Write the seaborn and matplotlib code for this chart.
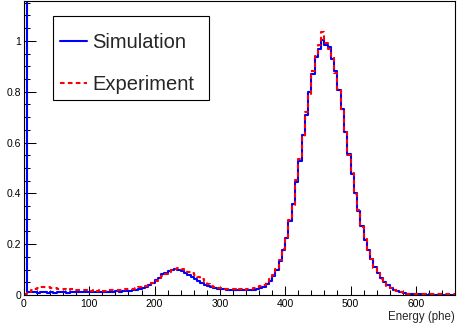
import numpy as np
import pandas as pd
import matplotlib
matplotlib.use("Agg")
import matplotlib.pyplot as plt
import seaborn as sns
from matplotlib.patches import Rectangle
from matplotlib.ticker import MultipleLocator, FormatStrFormatter

# ---------------------------------------------------------------------------
# Dati: istogrammi normalizzati, bin da 5 phe tra 0 e 660
# ---------------------------------------------------------------------------

BIN_WIDTH = 5
E_MAX = 660
energy_centers = np.arange(0, E_MAX, BIN_WIDTH) + BIN_WIDTH / 2

sim_counts = [
    1.600, 0.012, 0.010, 0.011, 0.009, 0.010, 0.011, 0.009, 0.010, 0.009,
    0.010, 0.011, 0.010, 0.009, 0.010, 0.012, 0.010, 0.011, 0.010, 0.012,
    0.011, 0.012, 0.011, 0.012, 0.013, 0.012, 0.013, 0.012, 0.014, 0.013,
    0.015, 0.016, 0.017, 0.019, 0.021, 0.024, 0.028, 0.033, 0.039, 0.048,
    0.058, 0.068, 0.082, 0.088, 0.094, 0.099, 0.103, 0.099, 0.094, 0.087,
    0.080, 0.071, 0.064, 0.056, 0.047, 0.038, 0.034, 0.030, 0.027, 0.024,
    0.023, 0.022, 0.021, 0.021, 0.019, 0.020, 0.018, 0.019, 0.018, 0.019,
    0.020, 0.022, 0.026, 0.033, 0.045, 0.057, 0.076, 0.100, 0.133, 0.176,
    0.226, 0.290, 0.360, 0.446, 0.528, 0.630, 0.708, 0.800, 0.868, 0.935,
    0.968, 1.005, 0.985, 0.975, 0.930, 0.882, 0.805, 0.731, 0.640, 0.556,
    0.478, 0.402, 0.332, 0.270, 0.218, 0.176, 0.140, 0.110, 0.086, 0.066,
    0.050, 0.038, 0.028, 0.020, 0.014, 0.010, 0.007, 0.005, 0.004, 0.003,
    0.002, 0.002, 0.002, 0.001, 0.002, 0.001, 0.001, 0.002, 0.001, 0.001,
    0.001, 0.001,
]

exp_counts = [
    0.004, 0.012, 0.018, 0.022, 0.026, 0.030, 0.033, 0.031, 0.028, 0.027,
    0.025, 0.023, 0.024, 0.021, 0.022, 0.020, 0.019, 0.020, 0.018, 0.019,
    0.017, 0.018, 0.016, 0.018, 0.017, 0.019, 0.018, 0.019, 0.020, 0.019,
    0.021, 0.022, 0.023, 0.025, 0.027, 0.030, 0.032, 0.036, 0.041, 0.048,
    0.056, 0.064, 0.074, 0.083, 0.090, 0.097, 0.104, 0.107, 0.103, 0.098,
    0.092, 0.085, 0.078, 0.070, 0.062, 0.052, 0.044, 0.037, 0.031, 0.028,
    0.026, 0.024, 0.024, 0.022, 0.023, 0.021, 0.022, 0.021, 0.023, 0.025,
    0.027, 0.030, 0.035, 0.041, 0.050, 0.062, 0.080, 0.104, 0.138, 0.180,
    0.222, 0.295, 0.355, 0.452, 0.535, 0.622, 0.720, 0.792, 0.882, 0.942,
    0.985, 1.035, 0.990, 0.968, 0.935, 0.875, 0.810, 0.725, 0.645, 0.550,
    0.482, 0.398, 0.335, 0.266, 0.221, 0.172, 0.142, 0.108, 0.088, 0.064,
    0.051, 0.037, 0.029, 0.019, 0.015, 0.010, 0.008, 0.005, 0.004, 0.003,
    0.003, 0.002, 0.002, 0.002, 0.002, 0.003, 0.002, 0.002, 0.003, 0.002,
    0.002, 0.003,
]

x_label = "Energy (phe)"
series_labels = ["Simulation", "Experiment"]

# ---------------------------------------------------------------------------
# Stile tipo ROOT
# ---------------------------------------------------------------------------

sns.set_style("ticks")
plt.rcParams["font.family"] = ["Liberation Sans", "DejaVu Sans"]

sim_df = pd.DataFrame({"energy": energy_centers, "weight": sim_counts})
exp_df = pd.DataFrame({"energy": energy_centers, "weight": exp_counts})

fig = plt.figure(figsize=(4.63, 3.26), dpi=100)
ax = fig.add_axes([0.0518, 0.0951, 0.9309, 0.9003])

sns.histplot(data=sim_df, x="energy", weights="weight",
             binwidth=BIN_WIDTH, binrange=(0, E_MAX), element="step",
             fill=False, color="#0000ff", lw=1.5, ax=ax,
             label=series_labels[0])
sns.histplot(data=exp_df, x="energy", weights="weight",
             binwidth=BIN_WIDTH, binrange=(0, E_MAX), element="step",
             fill=False, color="#ff0000", lw=1.5, linestyle=(0, (2.2, 1.6)),
             ax=ax, label=series_labels[1])

ax.set_xlim(0, E_MAX)
ax.set_ylim(0, 1.155)
ax.set_ylabel("")
ax.set_xlabel(x_label, loc="right", fontsize=8.3, labelpad=1)

ax.xaxis.set_major_locator(MultipleLocator(100))
ax.xaxis.set_minor_locator(MultipleLocator(20))
ax.yaxis.set_major_locator(MultipleLocator(0.2))
ax.yaxis.set_minor_locator(MultipleLocator(0.05))
ax.yaxis.set_major_formatter(FormatStrFormatter("%g"))

ax.tick_params(axis="both", which="both", direction="in", width=0.75,
               colors="black", labelsize=7.5)
ax.tick_params(axis="x", which="major", length=6.5, pad=3)
ax.tick_params(axis="x", which="minor", length=3.3)
ax.tick_params(axis="y", which="major", length=8.6, pad=2)
ax.tick_params(axis="y", which="minor", length=4.3)

for sp in ax.spines.values():
    sp.set_visible(True)
    sp.set_color("black")
    sp.set_linewidth(0.8)

# Riquadro della legenda (box rettangolare stile TLegend)
ax.add_patch(Rectangle((53 / 463, 1 - 99.5 / 326), 156 / 463, 83.5 / 326,
                       transform=fig.transFigure, facecolor="white",
                       edgecolor="black", lw=0.8, zorder=4, clip_on=False))

handles, labels = ax.get_legend_handles_labels()
leg = ax.legend(handles, labels, loc="upper left",
                bbox_to_anchor=(60 / 463, 1 - 33 / 326),
                bbox_transform=fig.transFigure, frameon=False,
                fontsize=14.5, handlelength=1.35, handletextpad=0.25,
                labelspacing=1.12, borderpad=0, borderaxespad=0)
leg.set_zorder(5)

fig.savefig("out.png", dpi=100)
